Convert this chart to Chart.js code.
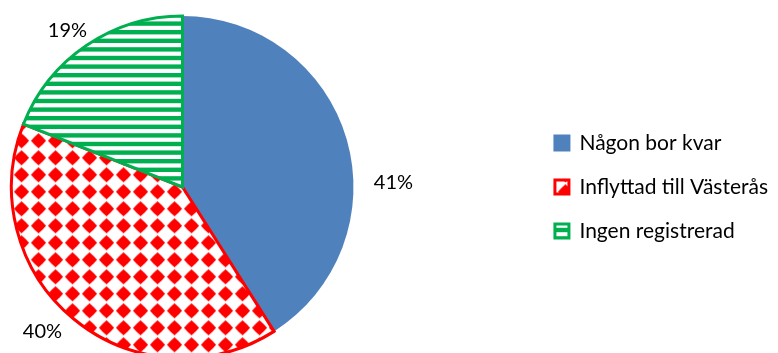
<!DOCTYPE html>
<html>
<head>
<meta charset="utf-8">
<script src="https://cdn.jsdelivr.net/npm/chart.js@4.4.0/dist/chart.umd.min.js"></script>
<style>
  html, body { margin: 0; padding: 0; background: #fff; overflow: hidden; }
  #wrap { position: relative; width: 778px; height: 353px; overflow: hidden; }
  /* canvasen är bredare och förskjuten åt vänster så att tårtan hamnar till vänster om legenden */
  #pie { position: absolute; left: -167px; top: 0; display: block; }
</style>
</head>
<body>
<div id="wrap"><canvas id="pie" width="945" height="353"></canvas></div>
<script>
// Andelar i procent
const categories = ["Någon bor kvar", "Inflyttad till Västerås", "Ingen registrerad"];
const shares = [41, 40, 19];
const sliceColors = ["#4F81BD", "#FF0000", "#00B050"];

const canvas = document.getElementById("pie");
const ctx = canvas.getContext("2d");

// Röda romber på vit botten
function diamondPattern(color) {
  const tile = document.createElement("canvas");
  tile.width = 17;
  tile.height = 17;
  const g = tile.getContext("2d");
  g.fillStyle = "#fff";
  g.fillRect(0, 0, 17, 17);
  g.fillStyle = color;
  const c = 8.5, tip = 7.6, d = 3.9;
  g.beginPath();
  g.moveTo(c, c - tip);
  g.lineTo(c + d, c - d);
  g.lineTo(c + tip, c);
  g.lineTo(c + d, c + d);
  g.lineTo(c, c + tip);
  g.lineTo(c - d, c + d);
  g.lineTo(c - tip, c);
  g.lineTo(c - d, c - d);
  g.closePath();
  g.fill();
  const p = ctx.createPattern(tile, "repeat");
  p.setTransform(new DOMMatrix().translate(-7, -3.7));
  return p;
}

// Breda vågräta ränder
function stripePattern(color) {
  const tile = document.createElement("canvas");
  tile.width = 8;
  tile.height = 43;
  const g = tile.getContext("2d");
  g.fillStyle = "#fff";
  g.fillRect(0, 0, 8, 43);
  g.fillStyle = color;
  for (let k = 0; k < 5; k++) g.fillRect(0, 4.2 + 8.6 * k, 8, 4.4);
  return ctx.createPattern(tile, "repeat");
}

// Procentetiketter utanför tårtan
const labelOffsets = [[211, -4], [-140, 145], [-115, -156]];
const pctLabels = {
  id: "pctLabels",
  afterDatasetsDraw(chart) {
    const meta = chart.getDatasetMeta(0);
    const c = chart.ctx;
    c.save();
    c.font = "20px Lato";
    c.fillStyle = "#000";
    c.textAlign = "center";
    c.textBaseline = "middle";
    meta.data.forEach((arc, i) => {
      const [dx, dy] = labelOffsets[i];
      c.fillText(shares[i] + "%", arc.x + dx, arc.y + dy);
    });
    c.restore();
  },
};

new Chart(ctx, {
  type: "pie",
  data: {
    labels: categories,
    datasets: [
      {
        data: shares,
        backgroundColor: [sliceColors[0], diamondPattern(sliceColors[1]), stripePattern(sliceColors[2])],
        borderColor: sliceColors,
        borderWidth: [0, 3, 3],
        borderJoinStyle: "miter",
        clip: false,
      },
    ],
  },
  options: {
    responsive: false,
    devicePixelRatio: 1,
    animation: false,
    radius: 171,
    layout: { padding: { left: 0, right: 0, top: 21, bottom: 0 } },
    plugins: {
      tooltip: { enabled: false },
      legend: {
        position: "right",
        maxWidth: 249,
        labels: {
          color: "#000",
          font: { family: "Lato", size: 21 },
          boxWidth: 14,
          boxHeight: 14,
          padding: 23,
          generateLabels(chart) {
            const items = Chart.overrides.pie.plugins.legend.labels.generateLabels(chart);
            items.forEach((it, i) => {
              it.lineWidth = 3;
              it.strokeStyle = sliceColors[i];
            });
            return items;
          },
        },
      },
    },
  },
  plugins: [pctLabels],
});
</script>
</body>
</html>
